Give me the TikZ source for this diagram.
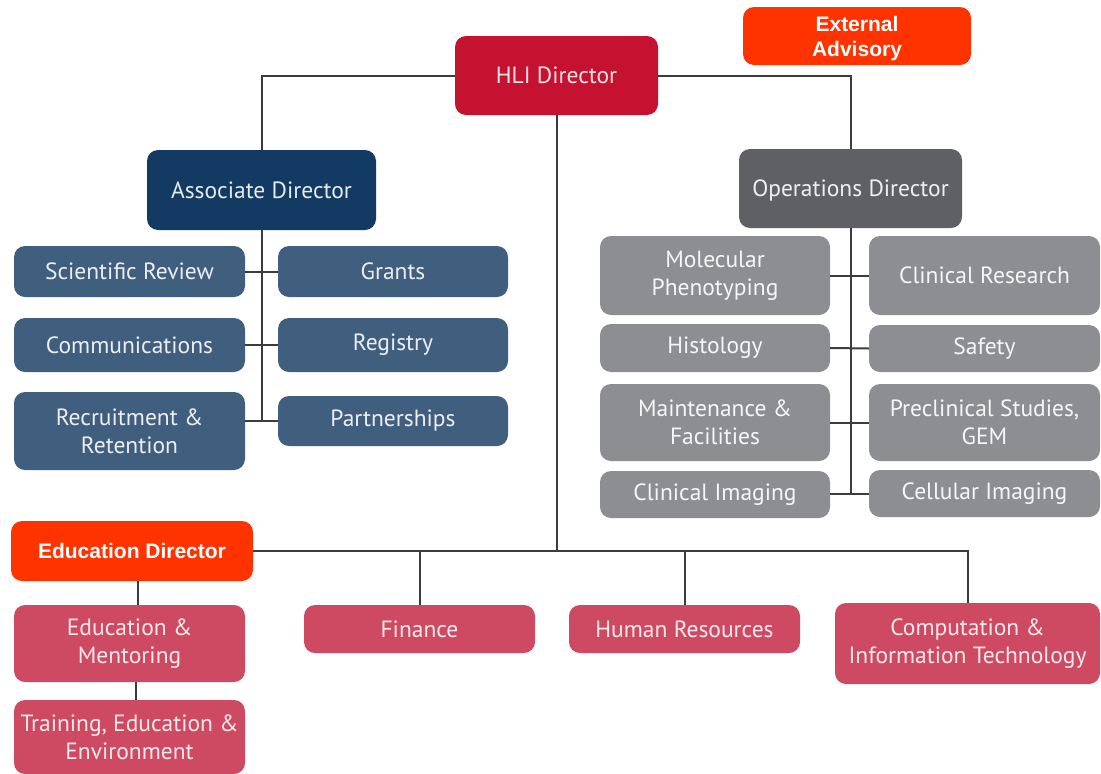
\documentclass[tikz,border=0pt]{standalone}
\usepackage{fontspec}
\setmainfont{PT Sans}
\newfontfamily\arialbold[BoldFont={Liberation Sans Bold}]{Liberation Sans}
\definecolor{hlired}{RGB}{196,18,48}
\definecolor{advorange}{RGB}{255,51,0}
\definecolor{assocblue}{RGB}{19,58,99}
\definecolor{childblue}{RGB}{64,94,126}
\definecolor{opsgray}{RGB}{95,96,99}
\definecolor{childgray}{RGB}{140,142,145}
\definecolor{pinkbox}{RGB}{206,74,99}
\definecolor{linegray}{RGB}{60,60,60}
\tikzset{
  box/.style={rounded corners=11pt, inner sep=0pt, align=center,
    font=\fontsize{23.5}{28}\selectfont},
  hlibox/.style={box, fill=hlired, text=white!88!hlired},
  orangebox/.style={box, fill=advorange, text=white,
    font=\arialbold\bfseries\fontsize{21}{25}\selectfont},
  assocbox/.style={box, fill=assocblue, text=white!90!assocblue},
  bluebox/.style={box, fill=childblue, text=white!90!childblue},
  opsbox/.style={box, fill=opsgray, text=white!90!opsgray},
  graybox/.style={box, fill=childgray, text=white!92!childgray},
  pinkb/.style={box, fill=pinkbox, text=white!88!pinkbox},
  conn/.style={draw=linegray, line width=2pt},
}
\begin{document}
\begin{tikzpicture}[x=1pt,y=-1pt]
\useasboundingbox (0,0) rectangle (1101,774);
% top level
\node[hlibox, minimum width=203, minimum height=79] (hli) at (556.5,75.5) {HLI Director};
\node[orangebox, minimum width=228, minimum height=58, text depth=0pt] (ext) at (857,36) {External\\Advisory};
\node[assocbox, minimum width=229, minimum height=80] (assoc) at (261.5,190) {Associate Director};
\node[opsbox, minimum width=223, minimum height=79, text depth=0pt] (ops) at (850.5,188.5) {Operations Director};
% associate children
\node[bluebox, minimum width=231, minimum height=51] (sci) at (129.5,271.5) {Scientific Review};
\node[bluebox, minimum width=230, minimum height=51] (grants) at (393,271.5) {Grants};
\node[bluebox, minimum width=231, minimum height=54] (comms) at (129.5,345) {Communications};
\node[bluebox, minimum width=230, minimum height=54] (registry) at (393,345) {Registry};
\node[bluebox, minimum width=231, minimum height=78] (recruit) at (129.5,431) {Recruitment \&\\Retention};
\node[bluebox, minimum width=230, minimum height=50] (partners) at (393,421) {Partnerships};
% operations children
\node[graybox, minimum width=230, minimum height=79] (molph) at (715,275.5) {Molecular\\Phenotyping};
\node[graybox, minimum width=231, minimum height=79] (clinres) at (984.5,275.5) {Clinical Research};
\node[graybox, minimum width=230, minimum height=48] (histo) at (715,348) {Histology};
\node[graybox, minimum width=231, minimum height=47] (safety) at (984.5,348.5) {Safety};
\node[graybox, minimum width=230, minimum height=77] (maint) at (715,422.5) {Maintenance \&\\Facilities};
\node[graybox, minimum width=231, minimum height=77] (precl) at (984.5,422.5) {Preclinical Studies,\\GEM};
\node[graybox, minimum width=230, minimum height=47] (clinimg) at (715,494.5) {Clinical Imaging};
\node[graybox, minimum width=231, minimum height=47] (cellimg) at (984.5,493.5) {Cellular Imaging};
% lower tier
\node[orangebox, minimum width=242, minimum height=60] (edudir) at (132,551) {Education Director};
\node[pinkb, minimum width=231, minimum height=77] (edument) at (129.5,643.5) {Education \&\\Mentoring};
\node[pinkb, minimum width=231, minimum height=74] (training) at (129.5,737) {Training, Education \&\\Environment};
\node[pinkb, minimum width=231, minimum height=48] (finance) at (419.5,629) {Finance};
\node[pinkb, minimum width=231, minimum height=48] (hr) at (684.5,629) {Human Resources};
\node[pinkb, minimum width=265, minimum height=81] (comp) at (967.5,643.5) {Computation \&\\Information Technology};
% connectors
\draw[conn] (hli.west) -| (assoc.north);
\draw[conn] (hli.east) -| (ops.north);
\draw[conn] (hli.south) -- (hli.south |- edudir.east);
\draw[conn] (edudir.east) -- (comp.north |- edudir.east) -- (comp.north);
\draw[conn] (finance.north |- edudir.east) -- (finance.north);
\draw[conn] (hr.north |- edudir.east) -- (hr.north);
\draw[conn] ([xshift=6pt]edudir.south) -- ([xshift=6pt]edudir.south |- edument.north);
\draw[conn] ([xshift=6pt]edument.south) -- ([xshift=6pt]edument.south |- training.north);
% associate tree
\draw[conn] (assoc.south) -- (assoc.south |- partners.west);
\draw[conn] (sci.east) -- (grants.west);
\draw[conn] (comms.east) -- (registry.west);
\draw[conn] (recruit.east |- partners.west) -- (partners.west);
% operations tree
\draw[conn] (ops.south) -- (ops.south |- clinimg.east);
\draw[conn] (molph.east) -- (clinres.west);
\draw[conn] (histo.east) -- (safety.west);
\draw[conn] (maint.east) -- (precl.west);
\draw[conn] (clinimg.east |- cellimg.west) -- (cellimg.west);
\end{tikzpicture}
\end{document}
